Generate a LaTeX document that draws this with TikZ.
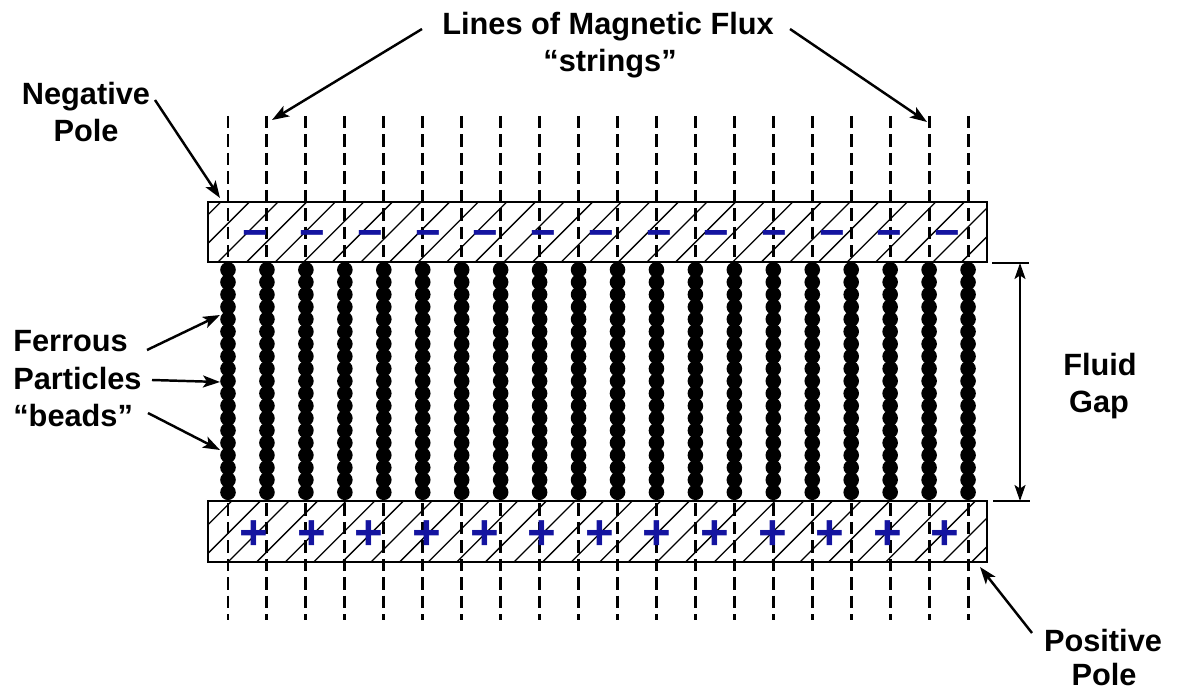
\documentclass[tikz,border=0pt]{standalone}
\usepackage{fontspec}
\setmainfont{Liberation Sans}
\usetikzlibrary{arrows.meta}
\definecolor{signblue}{RGB}{20,20,160}
\begin{document}
\begin{tikzpicture}[x=0.02cm,y=-0.02cm,
  lbl/.style={font=\bfseries\fontsize{17.5}{21}\selectfont, inner sep=0pt, anchor=base},
  flux/.style={line width=1.7pt, dash pattern=on 7pt off 3.5pt},
  hatch/.style={line width=0.75pt},
  plate/.style={line width=1.4pt},
  ptr/.style={line width=1.4pt, -{Stealth[length=0.34cm,width=0.24cm,inset=0.08cm]}},
  dimarrow/.style={line width=1.1pt, {Stealth[length=0.32cm,width=0.22cm,inset=0.07cm]}-{Stealth[length=0.32cm,width=0.22cm,inset=0.07cm]}},
  dimtick/.style={line width=1.1pt},
  minussign/.style={text=signblue, font=\bfseries\fontsize{25}{25}\selectfont, inner sep=0pt, anchor=base},
  plussign/.style={text=signblue, font=\bfseries\fontsize{28}{28}\selectfont, inner sep=0pt, anchor=base}]
\useasboundingbox (0,0) rectangle (1179,692);

% hatching of the poles
\begin{scope}
  \clip (208,202) rectangle (987,262);
  \foreach \i in {-3,...,28} \draw[hatch] ({218+28.6*\i},262) -- ({218+28.6*\i+80},182);
\end{scope}
\begin{scope}
  \clip (208,501) rectangle (987,562);
  \foreach \i in {-3,...,28} \draw[hatch] ({228+28.6*\i},562) -- ({228+28.6*\i+80},482);
\end{scope}

% lines of flux
\foreach \k in {0,...,19} \draw[flux] ({228+38.95*\k},116) -- ({228+38.95*\k},620);

% bead chains
\foreach \k in {0,...,19} {
  \foreach \j in {0,...,18} {
    \fill ({228+38.95*\k},{269.8+12.36*\j}) circle[radius=0.156cm];
  }
}

% poles
\draw[plate] (208,202) rectangle (987,262);
\draw[plate] (208,501) rectangle (987,562);

% signs
\foreach \i in {0,...,12} {
  \node[minussign] (m\i) at ({255+57.7*\i},247.5) {−};
  \node[plussign] (p\i) at ({254+57.6*\i},549.5) {+};
}

% labels
\node[lbl] (t1) at (608,35) {Lines of Magnetic Flux};
\node[lbl] (t2) at (610,72) {“strings”};
\node[lbl] (n1) at (86,105) {Negative};
\node[lbl] (n2) at (86,142) {Pole};
\node[lbl,anchor=base west] (f1) at (13,352) {Ferrous};
\node[lbl,anchor=base west] (f2) at (13,389) {Particles};
\node[lbl,anchor=base west] (f3) at (13,426) {“beads”};
\node[lbl] (g1) at (1100,375) {Fluid};
\node[lbl] (g2) at (1099,412) {Gap};
\node[lbl] (q1) at (1103,651) {Positive};
\node[lbl] (q2) at (1104,685) {Pole};

% pointer coordinates
\coordinate (tls) at (422,29);  \coordinate (tle) at (272,120);
\coordinate (trs) at (790,29);  \coordinate (tre) at (927,122);
\coordinate (ns) at (155,100);  \coordinate (ne) at (220,198);
\coordinate (fas) at (147,350); \coordinate (fae) at (220,315);
\coordinate (fbs) at (152,380); \coordinate (fbe) at (220,382);
\coordinate (fcs) at (148,413); \coordinate (fce) at (220,450);
\coordinate (ps) at (1032,633); \coordinate (pe) at (980,567);

\draw[ptr] (tls) -- (tle);
\draw[ptr] (trs) -- (tre);
\draw[ptr] (ns) -- (ne);
\draw[ptr] (fas) -- (fae);
\draw[ptr] (fbs) -- (fbe);
\draw[ptr] (fcs) -- (fce);
\draw[ptr] (ps) -- (pe);

% fluid gap dimension
\coordinate (dt1) at (992,263); \coordinate (dt2) at (1029,263);
\coordinate (db1) at (993,501); \coordinate (db2) at (1030,501);
\coordinate (da) at (1020,263); \coordinate (db) at (1020,501);
\draw[dimtick] (dt1) -- (dt2);
\draw[dimtick] (db1) -- (db2);
\draw[dimarrow] (da) -- (db);
\end{tikzpicture}
\end{document}
